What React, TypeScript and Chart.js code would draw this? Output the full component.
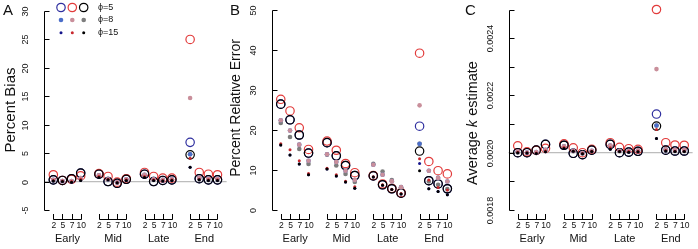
import React, { useEffect, useRef } from "react";
import { Chart, registerables } from "chart.js";
Chart.register(...registerables);

// ---------- categories / ticks ----------
const groups = ["Early", "Mid", "Late", "End"];
const groupTickLabels = ["2", "5", "7", "10"];
const xPositions = [1, 2, 3, 4, 6, 7, 8, 9, 11, 12, 13, 14, 16, 17, 18, 19];

// ---------- Panel A: Percent Bias ----------
const biasTicks = [-5, 0, 5, 10, 15, 20, 25, 30];
const biasTickLabels = ["-5", "0", "5", "10", "15", "20", "25", "30"];
const biasBlue5 = [0.3, 0.2, 0.5, 1.5, 1.3, 0.0, -0.3, 0.4, 1.3, 0.0, 0.2, 0.3, 6.9, 0.5, 0.3, 0.3];
const biasRed5 = [1.2, 0.2, 0.4, 1.0, 1.4, 0.9, -0.1, 0.5, 1.6, 0.9, 0.6, 0.6, 25.0, 1.6, 1.3, 1.2];
const biasBlack5 = [0.3, 0.2, 0.5, 1.5, 1.3, 0.0, -0.3, 0.4, 1.3, 0.0, 0.2, 0.3, 4.7, 0.5, 0.3, 0.3];
const biasGray8 = [0.2, 0.1, 0.0, 0.5, 1.0, 0.3, -0.2, 0.3, 1.1, 0.3, 0.2, 0.3, 4.8, 0.5, 0.3, 0.3];
const biasBlue8 = [0.3, 0.1, 0.1, 0.6, 1.1, 0.4, -0.1, 0.4, 1.2, 0.4, 0.3, 0.4, 4.8, 0.7, 0.5, 0.5];
const biasPink8 = [0.3, 0.1, 0.1, 0.6, 1.1, 0.4, -0.1, 0.4, 1.2, 0.4, 0.3, 0.4, 14.7, 0.7, 0.5, 0.5];
const biasBlue15 = [0.1, 0.0, -0.1, 0.2, 0.7, 0.3, -0.2, 0.2, 0.7, 0.2, 0.1, 0.2, 2.5, 0.3, 0.2, 0.2];
const biasRed15 = [0.2, 0.1, 0.0, 0.4, 0.9, 0.4, -0.2, 0.3, 0.9, 0.3, 0.2, 0.3, 4.1, 0.4, 0.3, 0.3];
const biasBlack15 = [0.1, 0.0, -0.1, 0.2, 0.7, 0.3, -0.2, 0.2, 0.7, 0.2, 0.1, 0.2, 2.5, 0.3, 0.2, 0.2];

// ---------- Panel B: Percent Relative Error ----------
const relTicks = [0, 10, 20, 30, 40, 50];
const relTickLabels = ["0", "10", "20", "30", "40", "50"];
const relBlue5 = [26.4, 22.5, 18.7, 14.2, 16.8, 13.5, 11.1, 8.6, 8.5, 6.3, 5.3, 4.2, 20.9, 7.3, 6.5, 5.3];
const relRed5 = [27.6, 24.7, 20.5, 15.1, 17.2, 14.9, 11.6, 9.3, 8.6, 6.5, 5.4, 4.3, 39.1, 12.1, 9.8, 9.0];
const relBlack5 = [26.4, 22.5, 18.7, 14.2, 16.8, 13.5, 11.1, 8.6, 8.5, 6.3, 5.3, 4.2, 14.7, 7.3, 6.5, 5.3];
const relGray8 = [21.7, 18.2, 15.2, 11.5, 13.8, 11.1, 9.0, 7.0, 11.5, 9.6, 7.5, 5.6, 16.5, 7.1, 6.3, 5.2];
const relBlue8 = [22.4, 19.8, 16.3, 12.3, 13.9, 12.0, 9.8, 7.5, 11.3, 8.8, 7.2, 5.7, 16.5, 9.8, 8.0, 7.1];
const relPink8 = [22.4, 19.8, 16.3, 12.3, 13.9, 12.0, 9.8, 7.5, 11.3, 8.8, 7.2, 5.7, 26.1, 9.8, 8.0, 7.1];
const relBlue15 = [16.2, 13.7, 11.5, 8.8, 10.2, 8.5, 7.0, 5.4, 8.2, 6.2, 5.1, 4.0, 11.6, 5.3, 4.6, 3.8];
const relRed15 = [16.5, 15.0, 12.3, 9.1, 10.4, 8.8, 7.2, 5.8, 8.3, 6.3, 5.2, 4.1, 12.8, 7.5, 5.6, 5.0];
const relBlack15 = [16.2, 13.7, 11.5, 8.8, 10.2, 8.5, 7.0, 5.4, 8.2, 6.2, 5.1, 4.0, 9.8, 5.3, 4.6, 3.8];

// ---------- Panel C: Average k estimate ----------
const kTicks = [0.0018, 0.0019, 0.002, 0.0021, 0.0022, 0.0023, 0.0024, 0.0025];
const kTickLabels = ["0.0018", "", "0.0020", "", "0.0022", "", "0.0024", ""];
const kBlue5 = [0.002, 0.002, 0.002009, 0.002029, 0.002026, 0.001998, 0.001993, 0.002009, 0.002029, 0.002, 0.002002, 0.002005, 0.002135, 0.002009, 0.002006, 0.002006];
const kRed5 = [0.002024, 0.002003, 0.002008, 0.002015, 0.002031, 0.002017, 0.002, 0.002012, 0.002035, 0.002019, 0.002014, 0.002012, 0.0025, 0.002035, 0.002027, 0.002026];
const kBlack5 = [0.002, 0.002, 0.002009, 0.002029, 0.002026, 0.001998, 0.001993, 0.002009, 0.002029, 0.002, 0.002002, 0.002005, 0.002093, 0.002009, 0.002006, 0.002006];
const kGray8 = [0.002001, 0.002, 0.001999, 0.002008, 0.002021, 0.002005, 0.001997, 0.002005, 0.002023, 0.002005, 0.002004, 0.002005, 0.002095, 0.002008, 0.002006, 0.002006];
const kBlue8 = [0.002004, 0.002001, 0.002002, 0.00201, 0.002022, 0.002007, 0.001999, 0.002007, 0.002025, 0.002007, 0.002006, 0.002008, 0.002095, 0.002012, 0.00201, 0.00201];
const kPink8 = [0.002004, 0.002001, 0.002002, 0.00201, 0.002022, 0.002007, 0.001999, 0.002007, 0.002025, 0.002007, 0.002006, 0.002008, 0.002292, 0.002012, 0.00201, 0.00201];
const kBlue15 = [0.002, 0.001999, 0.001997, 0.002003, 0.002015, 0.002005, 0.001996, 0.002004, 0.002012, 0.002004, 0.002002, 0.002003, 0.00205, 0.002006, 0.002004, 0.002004];
const kRed15 = [0.002002, 0.002, 0.001999, 0.002006, 0.002018, 0.002006, 0.001997, 0.002005, 0.002017, 0.002005, 0.002004, 0.002005, 0.002081, 0.002008, 0.002005, 0.002005];
const kBlack15 = [0.002, 0.001999, 0.001997, 0.002003, 0.002015, 0.002005, 0.001996, 0.002004, 0.002012, 0.002004, 0.002002, 0.002003, 0.00205, 0.002006, 0.002004, 0.002004];

const legendLabels = ["\u03D5=5", "\u03D5=8", "\u03D5=15"];

// ---------- styles ----------
type Sty = { color: string; radius: number; open: boolean };
const S5 = { radius: 4.2, open: true };
const S8 = { radius: 2.3, open: false };
const S15 = { radius: 1.5, open: false };
const styBlue5: Sty = { color: "#2f2f9f", ...S5 };
const styRed5: Sty = { color: "#e23b3b", ...S5 };
const styBlack5: Sty = { color: "#000000", ...S5 };
const styGray8: Sty = { color: "#7d7d7d", ...S8 };
const styBlue8: Sty = { color: "#4b6ec9", ...S8 };
const styPink8: Sty = { color: "#c98f9b", ...S8 };
const styBlue15: Sty = { color: "#15158c", ...S15 };
const styRed15: Sty = { color: "#c8282e", ...S15 };
const styBlack15: Sty = { color: "#000000", ...S15 };

const FONT = '"Liberation Sans", Arial, Helvetica, sans-serif';
const TEXT = "#111";

type PanelCfg = {
  canvasLeft: number;
  canvasWidth: number;
  p0: number; // absolute px of x=0
  unit: number;
  top: number;
  bottom: number;
  yMin: number;
  yMax: number;
  ticks: number[];
  tickLabels: string[];
  series: { data: number[]; sty: Sty }[];
  refLine: number | null;
  title: { t: string; i: boolean }[];
  titleSize: number;
  titleBase: number; // absolute x of baseline
  titleCenterY: number;
  letter: string;
  letterX: number;
  legend: boolean;
};

const panels: PanelCfg[] = [
  {
    canvasLeft: 0, canvasWidth: 232, p0: 44.2, unit: 9.13, top: 11, bottom: 210,
    yMin: -5, yMax: 30, ticks: biasTicks, tickLabels: biasTickLabels,
    series: [
      { data: biasBlue5, sty: styBlue5 }, { data: biasRed5, sty: styRed5 }, { data: biasBlack5, sty: styBlack5 },
      { data: biasGray8, sty: styGray8 }, { data: biasBlue8, sty: styBlue8 }, { data: biasPink8, sty: styPink8 },
      { data: biasBlue15, sty: styBlue15 }, { data: biasRed15, sty: styRed15 }, { data: biasBlack15, sty: styBlack15 },
    ],
    refLine: 0,
    title: [{ t: "Percent Bias", i: false }], titleSize: 15, titleBase: 15, titleCenterY: 110,
    letter: "A", letterX: 3, legend: true,
  },
  {
    canvasLeft: 230, canvasWidth: 232, p0: 271.5, unit: 9.52, top: 9.5, bottom: 210,
    yMin: 0, yMax: 50, ticks: relTicks, tickLabels: relTickLabels,
    series: [
      { data: relBlue5, sty: styBlue5 }, { data: relRed5, sty: styRed5 }, { data: relBlack5, sty: styBlack5 },
      { data: relGray8, sty: styGray8 }, { data: relBlue8, sty: styBlue8 }, { data: relPink8, sty: styPink8 },
      { data: relBlue15, sty: styBlue15 }, { data: relRed15, sty: styRed15 }, { data: relBlack15, sty: styBlack15 },
    ],
    refLine: null,
    title: [{ t: "Percent Relative Error", i: false }], titleSize: 14, titleBase: 240, titleCenterY: 108,
    letter: "B", letterX: 230, legend: false,
  },
  {
    canvasLeft: 462, canvasWidth: 236, p0: 508.5, unit: 9.52, top: 9.5, bottom: 210,
    yMin: 0.0018, yMax: 0.0025, ticks: kTicks, tickLabels: kTickLabels,
    series: [
      { data: kBlue5, sty: styBlue5 }, { data: kRed5, sty: styRed5 }, { data: kBlack5, sty: styBlack5 },
      { data: kGray8, sty: styGray8 }, { data: kBlue8, sty: styBlue8 }, { data: kPink8, sty: styPink8 },
      { data: kBlue15, sty: styBlue15 }, { data: kRed15, sty: styRed15 }, { data: kBlack15, sty: styBlack15 },
    ],
    refLine: 0.002,
    title: [{ t: "Average ", i: false }, { t: "k", i: true }, { t: " estimate", i: false }],
    titleSize: 14.5, titleBase: 477, titleCenterY: 123,
    letter: "C", letterX: 465, legend: false,
  },
];

function crisp(v: number) {
  return Math.round(v) + 0.5;
}

function drawMark(ctx: CanvasRenderingContext2D, x: number, y: number, sty: Sty) {
  ctx.beginPath();
  ctx.arc(x, y, sty.radius, 0, Math.PI * 2);
  if (sty.open) {
    ctx.lineWidth = 1.2;
    ctx.strokeStyle = sty.color;
    ctx.stroke();
  } else {
    ctx.fillStyle = sty.color;
    ctx.fill();
  }
}

function makeAxesPlugin(cfg: PanelCfg) {
  return {
    id: "rAxes" + cfg.letter,
    afterDatasetsDraw(chart: any) {
      const ctx: CanvasRenderingContext2D = chart.ctx;
      const xs = chart.scales.x;
      const ys = chart.scales.y;
      const off = cfg.canvasLeft;
      const ax = crisp(chart.chartArea.left);
      ctx.save();
      ctx.strokeStyle = "#000";
      ctx.fillStyle = TEXT;
      ctx.lineWidth = 1;

      // y axis
      const yTop = ys.getPixelForValue(cfg.ticks[cfg.ticks.length - 1]);
      const yBot = ys.getPixelForValue(cfg.ticks[0]);
      ctx.beginPath();
      ctx.moveTo(ax, Math.round(yTop) + 0.5);
      ctx.lineTo(ax, Math.round(yBot) + 0.5);
      ctx.stroke();
      ctx.font = `9px ${FONT}`;
      cfg.ticks.forEach((t, i) => {
        const py = Math.round(ys.getPixelForValue(t)) + 0.5;
        ctx.beginPath();
        ctx.moveTo(ax, py);
        ctx.lineTo(ax + 5, py);
        ctx.stroke();
        const lab = cfg.tickLabels[i];
        if (lab) {
          ctx.save();
          ctx.translate(ax - 18.5, py);
          ctx.rotate(-Math.PI / 2);
          ctx.textAlign = "center";
          ctx.textBaseline = "middle";
          ctx.fillText(lab, 0, 0);
          ctx.restore();
        }
      });

      // y title (rotated)
      ctx.save();
      ctx.translate(cfg.titleBase - off, cfg.titleCenterY);
      ctx.rotate(-Math.PI / 2);
      ctx.textBaseline = "alphabetic";
      ctx.textAlign = "left";
      const fontFor = (it: boolean) => `${it ? "italic " : ""}${cfg.titleSize}px ${FONT}`;
      let total = 0;
      cfg.title.forEach((p) => {
        ctx.font = fontFor(p.i);
        total += ctx.measureText(p.t).width;
      });
      let cx = -total / 2;
      cfg.title.forEach((p) => {
        ctx.font = fontFor(p.i);
        ctx.fillText(p.t, cx, 0);
        cx += ctx.measureText(p.t).width;
      });
      ctx.restore();

      // panel letter
      ctx.font = `15px ${FONT}`;
      ctx.textAlign = "left";
      ctx.textBaseline = "alphabetic";
      ctx.fillText(cfg.letter, cfg.letterX - off, 14.5);

      // x brackets
      const yLine = 219.5;
      groups.forEach((g, gi) => {
        const pxs = xPositions.slice(gi * 4, gi * 4 + 4).map((v) => xs.getPixelForValue(v));
        ctx.beginPath();
        ctx.moveTo(crisp(pxs[0]), yLine);
        ctx.lineTo(crisp(pxs[3]), yLine);
        pxs.forEach((px) => {
          ctx.moveTo(crisp(px), yLine);
          ctx.lineTo(crisp(px), yLine - 5.5);
        });
        ctx.stroke();
        ctx.font = `8.5px ${FONT}`;
        ctx.textAlign = "center";
        ctx.textBaseline = "middle";
        pxs.forEach((px, k) => ctx.fillText(groupTickLabels[k], px + 0.5, 225.5));
        ctx.font = `11px ${FONT}`;
        ctx.textBaseline = "alphabetic";
        ctx.fillText(g, (pxs[0] + pxs[3]) / 2 + 0.5, 242);
      });

      // legend
      if (cfg.legend) {
        const lx = [61 - off, 72.3 - off, 83.7 - off];
        const ly = [7.5, 20, 32.7];
        const rows = [
          [styBlue5, styRed5, styBlack5],
          [styBlue8, styPink8, styGray8],
          [styBlue15, styRed15, styBlack15],
        ];
        rows.forEach((row, r) => {
          row.forEach((s, c) => drawMark(ctx, lx[c], ly[r], s));
          ctx.fillStyle = TEXT;
          ctx.font = `9px ${FONT}`;
          ctx.textAlign = "left";
          ctx.textBaseline = "middle";
          ctx.fillText(legendLabels[r], 98 - off, ly[r]);
        });
      }
      ctx.restore();
    },
  };
}

function Panel({ cfg }: { cfg: PanelCfg }) {
  const ref = useRef<HTMLCanvasElement | null>(null);
  useEffect(() => {
    const canvas = ref.current!;
    const left = cfg.p0 - cfg.canvasLeft;
    const rightAbs = Math.min(cfg.p0 + 20 * cfg.unit, cfg.canvasLeft + cfg.canvasWidth);
    const xMax = (rightAbs - cfg.p0) / cfg.unit;
    const padR = cfg.canvasLeft + cfg.canvasWidth - rightAbs;
    const n = cfg.series.length;
    const datasets: any[] = [];
    if (cfg.refLine !== null) {
      datasets.push({
        data: [
          { x: 0, y: cfg.refLine },
          { x: xMax, y: cfg.refLine },
        ],
        showLine: true,
        borderColor: "#bdbdbd",
        borderWidth: 1.3,
        pointRadius: 0,
        order: 1000,
        clip: false,
      });
    }
    cfg.series.forEach((s, i) => {
      datasets.push({
        data: s.data.map((v, k) => ({ x: xPositions[k], y: v })),
        showLine: false,
        pointStyle: "circle",
        pointRadius: s.sty.radius,
        pointBorderWidth: s.sty.open ? 1.2 : 0,
        pointBorderColor: s.sty.color,
        pointBackgroundColor: s.sty.open ? "rgba(0,0,0,0)" : s.sty.color,
        order: 100 - i,
        clip: false,
      });
    });
    void n;
    const chart = new Chart(canvas, {
      type: "scatter",
      data: { datasets },
      options: {
        responsive: false,
        animation: false,
        events: [],
        layout: { padding: { left, right: padR, top: cfg.top, bottom: 249 - cfg.bottom } },
        scales: {
          x: { type: "linear", min: 0, max: xMax, display: false },
          y: { type: "linear", min: cfg.yMin, max: cfg.yMax, display: false },
        },
        plugins: { legend: { display: false }, tooltip: { enabled: false } },
      },
      plugins: [makeAxesPlugin(cfg)],
    } as any);
    return () => chart.destroy();
  }, [cfg]);
  return (
    <canvas
      ref={ref}
      width={cfg.canvasWidth}
      height={249}
      style={{ position: "absolute", left: cfg.canvasLeft, top: 0, width: cfg.canvasWidth, height: 249 }}
    />
  );
}

export default function App() {
  return (
    <div
      style={{
        position: "absolute",
        left: 0,
        top: 0,
        width: 698,
        height: 249,
        overflow: "hidden",
        background: "#ffffff",
      }}
    >
      {panels.map((p) => (
        <Panel key={p.letter} cfg={p} />
      ))}
    </div>
  );
}
